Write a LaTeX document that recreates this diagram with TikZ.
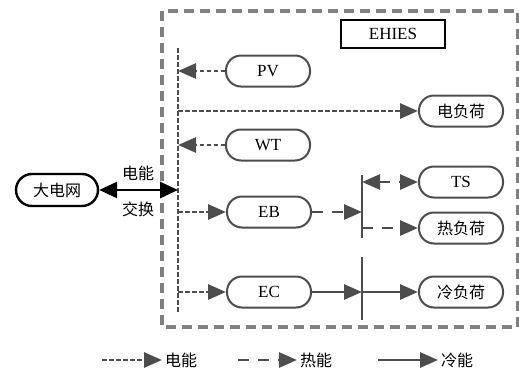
\documentclass[tikz,border=0pt]{standalone}
\usepackage{fontspec}
\setmainfont{Liberation Serif}
\newfontfamily\cjk{Noto Sans CJK SC}
\usepackage{tikz}
\usetikzlibrary{positioning,arrows.meta,calc}
\usepackage{xcolor}
\definecolor{linegray}{HTML}{4D4D4D}
\definecolor{boxgray}{HTML}{808080}
\tikzset{
  unit/.style={draw=linegray,line width=2pt,rounded corners=15pt,minimum width=84pt,minimum height=31pt,inner sep=0pt,font=\fontsize{17}{17}\selectfont},
  elec/.style={draw=linegray,line width=2.8pt,dash pattern=on 4.5pt off 2.5pt,-{Triangle[length=18pt,width=15pt]},color=linegray},
  heat/.style={draw=linegray,line width=2.8pt,dash pattern=on 11pt off 9pt,-{Triangle[length=18pt,width=15pt]},color=linegray},
  cold/.style={draw=linegray,line width=2.8pt,-{Triangle[length=18pt,width=15pt]},color=linegray},
  busline/.style={draw=linegray,line width=2.8pt},
  lbl/.style={font=\cjk\fontsize{16}{16}\selectfont,inner sep=1pt}
}
\begin{document}
\begin{tikzpicture}[x=1pt,y=-1pt]
\useasboundingbox (0,0) rectangle (519,378);
\draw[boxgray,line width=3.4pt,dash pattern=on 10pt off 6pt] (162,11) rectangle (518,327);
\node[draw=black,line width=2.4pt,minimum width=104pt,minimum height=28pt,inner sep=0pt,font=\fontsize{17}{17}\selectfont] (ehies) at (393,34) {EHIES};
\node[unit] (pv) at (268,71) {PV};
\node[unit] (wt) at (268,145) {WT};
\node[unit] (eb) at (269,212) {EB};
\node[unit] (ec) at (269,292) {EC};
\node[unit,font=\cjk\fontsize{16}{16}\selectfont] (eload) at (461,111) {电负荷};
\node[unit] (ts) at (461,182) {TS};
\node[unit,font=\cjk\fontsize{16}{16}\selectfont] (hload) at (461,228) {热负荷};
\node[unit,font=\cjk\fontsize{16}{16}\selectfont] (cload) at (461,292) {冷负荷};
\node[draw=black,line width=2.4pt,rounded corners=16pt,minimum width=82pt,minimum height=32pt,inner sep=0pt,font=\cjk\fontsize{16}{16}\selectfont] (grid) at (57,190) {大电网};
\coordinate (ebtop) at (178,48);
\coordinate (ebbot) at (178,313);
\coordinate (hbtop) at (362,175);
\coordinate (hbbot) at (362,238);
\coordinate (cbtop) at (362,257);
\coordinate (cbbot) at (362,320);
\draw[busline,dash pattern=on 4.5pt off 2.5pt] (ebtop) -- (ebbot);
\draw[busline] (hbtop) -- (hbbot);
\draw[busline] (cbtop) -- (cbbot);
\draw[elec] (pv.west) -- (pv.west -| ebtop);
\draw[elec] (wt.west) -- (wt.west -| ebtop);
\draw[elec] (eload.west -| ebtop) -- (eload.west);
\draw[elec] (eb.west -| ebtop) -- (eb.west);
\draw[elec] (ec.west -| ebtop) -- (ec.west);
\draw[black,line width=2.8pt,{Triangle[length=18pt,width=16pt]}-{Triangle[length=18pt,width=16pt]}] (grid.east) -- (grid.east -| ebtop);
\node[lbl] (exa) at (138,173) {电能};
\node[lbl] (exb) at (138,209) {交换};
\draw[heat] (eb.east) -- (eb.east -| hbtop);
\draw[heat,{Triangle[length=18pt,width=15pt]}-{Triangle[length=18pt,width=15pt]}] (ts.west -| hbtop) -- (ts.west);
\draw[heat] (hload.west -| hbtop) -- (hload.west);
\draw[cold] (ec.east) -- (ec.east -| cbtop);
\draw[cold] (cload.west -| cbtop) -- (cload.west);
\coordinate (la) at (102,360);
\coordinate (lb) at (162,360);
\coordinate (lc) at (238,360);
\coordinate (ld) at (297,360);
\coordinate (le) at (378,360);
\coordinate (lf) at (438,360);
\draw[elec] (la) -- (lb);
\draw[heat] (lc) -- (ld);
\draw[cold] (le) -- (lf);
\node[lbl,right=2pt of lb] (lelec) {电能};
\node[lbl,right=2pt of ld] (lheat) {热能};
\node[lbl,right=2pt of lf] (lcold) {冷能};
\end{tikzpicture}
\end{document}
